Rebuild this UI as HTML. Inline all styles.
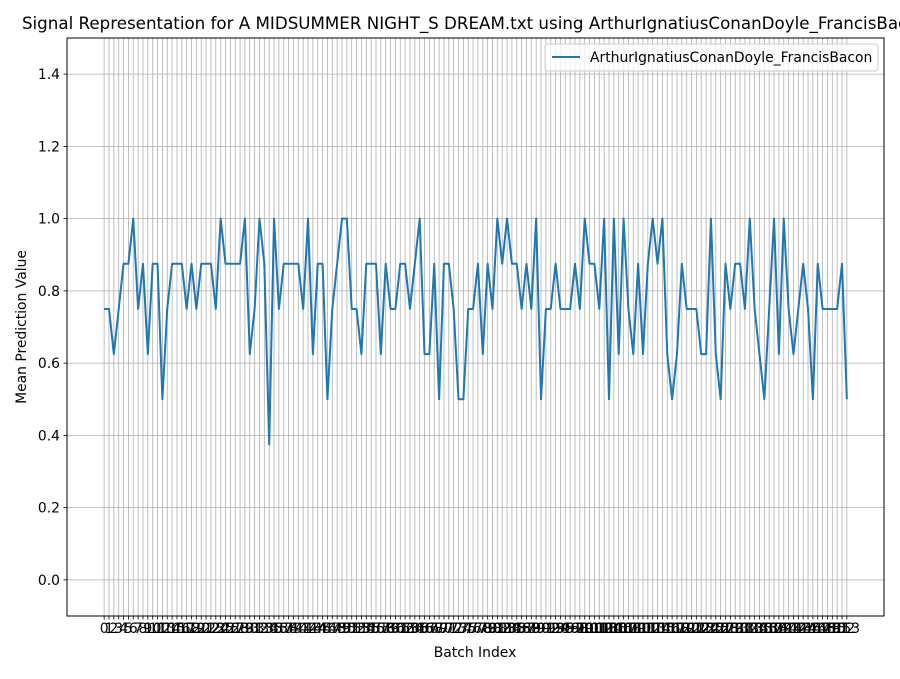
<!DOCTYPE html>
<html><head><meta charset="utf-8"><style>
body{margin:0;background:#fff;font-family:"DejaVu Sans","Liberation Sans",sans-serif;}
svg text{font-family:"DejaVu Sans","Liberation Sans",sans-serif;}
</style></head><body>
<svg id="chart" width="900" height="675" xmlns="http://www.w3.org/2000/svg">
<rect width="900" height="675" fill="#fff"/>
<g id="grid"></g>
<g id="yticks"></g>
<g id="xticks"></g>
<path id="line" fill="none" stroke="#1f77b4" stroke-width="2" stroke-linejoin="round"/>
<rect x="67" y="38" width="817" height="578" fill="none" stroke="#000" stroke-width="1"/>
<text x="475" y="29" font-size="16.7" text-anchor="middle">Signal Representation for A MIDSUMMER NIGHT_S DREAM.txt using ArthurIgnatiusConanDoyle_FrancisBacon</text>
<text x="475" y="657" font-size="13.9" text-anchor="middle">Batch Index</text>
<text transform="translate(26,327) rotate(-90)" font-size="13.9" text-anchor="middle">Mean Prediction Value</text>
<g>
<rect x="545" y="44" width="333" height="27" rx="3" fill="#fff" fill-opacity="0.8" stroke="#ccc"/>
<line x1="552" y1="57" x2="580" y2="57" stroke="#1f77b4" stroke-width="2"/>
<text x="590" y="62" font-size="13.9">ArthurIgnatiusConanDoyle_FrancisBacon</text>
</g>
</svg>
<script>
const values = [0.75,0.75,0.625,0.75,0.875,0.875,1.0,0.75,0.875,0.625,0.875,0.875,0.5,0.75,0.875,0.875,0.875,0.75,0.875,0.75,
0.875,0.875,0.875,0.75,1.0,0.875,0.875,0.875,0.875,1.0,0.625,0.75,1.0,0.875,0.375,1.0,0.75,0.875,0.875,0.875,
0.875,0.75,1.0,0.625,0.875,0.875,0.5,0.75,0.875,1.0,1.0,0.75,0.75,0.625,0.875,0.875,0.875,0.625,0.875,0.75,
0.75,0.875,0.875,0.75,0.875,1.0,0.625,0.625,0.875,0.5,0.875,0.875,0.75,0.5,0.5,0.75,0.75,0.875,0.625,0.875,
0.75,1.0,0.875,1.0,0.875,0.875,0.75,0.875,0.75,1.0,0.5,0.75,0.75,0.875,0.75,0.75,0.75,0.875,0.75,1.0,
0.875,0.875,0.75,1.0,0.5,1.0,0.625,1.0,0.75,0.625,0.875,0.625,0.875,1.0,0.875,1.0,0.625,0.5,0.625,0.875,
0.75,0.75,0.75,0.625,0.625,1.0,0.625,0.5,0.875,0.75,0.875,0.875,0.75,1.0,0.75,0.625,0.5,0.75,1.0,0.625,
1.0,0.75,0.625,0.75,0.875,0.75,0.5,0.875,0.75,0.75,0.75,0.75,0.875,0.5];
const yTicks = [0.0,0.2,0.4,0.6,0.8,1.0,1.2,1.4];
const NS="http://www.w3.org/2000/svg";
const n = values.length;
const X0=67,X1=884,Y0=38,Y1=616;
const xMin=-(n-1)*0.05, xMax=(n-1)*1.05;
const yMin=-0.1, yMax=1.5;
function sx(i){return X0+(i-xMin)/(xMax-xMin)*(X1-X0);}
function sy(v){return Y1-(v-yMin)/(yMax-yMin)*(Y1-Y0);}
function mk(tag,attrs,parent){const e=document.createElementNS(NS,tag);for(const k in attrs)e.setAttribute(k,attrs[k]);parent.appendChild(e);return e;}
const grid=document.getElementById('grid'), xt=document.getElementById('xticks'), yt=document.getElementById('yticks');
for(let i=0;i<n;i++){
  const x=sx(i);
  const g=mk('line',{x1:x,x2:x,y1:Y0,y2:Y1,stroke:'#b0b0b0','stroke-width':0.8},grid);
  
  
  const t=mk('line',{x1:x,x2:x,y1:Y1,y2:Y1+3.5,stroke:'#000','stroke-width':0.8},xt);
  
  
  const l=mk('text',{x:x,y:Y1+17,'font-size':13.9,'text-anchor':'middle'},xt);
  l.textContent=String(i);
  
  
}
yTicks.forEach(v=>{
  const y=sy(v);
  const g=mk('line',{x1:X0,x2:X1,y1:y,y2:y,stroke:'#b0b0b0','stroke-width':0.8},grid);
  
  
  const t=mk('line',{x1:X0-3.5,x2:X0,y1:y,y2:y,stroke:'#000','stroke-width':0.8},yt);
  
  
  const l=mk('text',{x:X0-7,y:y+5,'font-size':13.9,'text-anchor':'end'},yt);
  l.textContent=v.toFixed(1);
  
  
});
document.getElementById('line').setAttribute('d',values.map((v,i)=>(i?'L':'M')+sx(i).toFixed(2)+' '+sy(v).toFixed(2)).join(' '));
</script>
</body></html>
